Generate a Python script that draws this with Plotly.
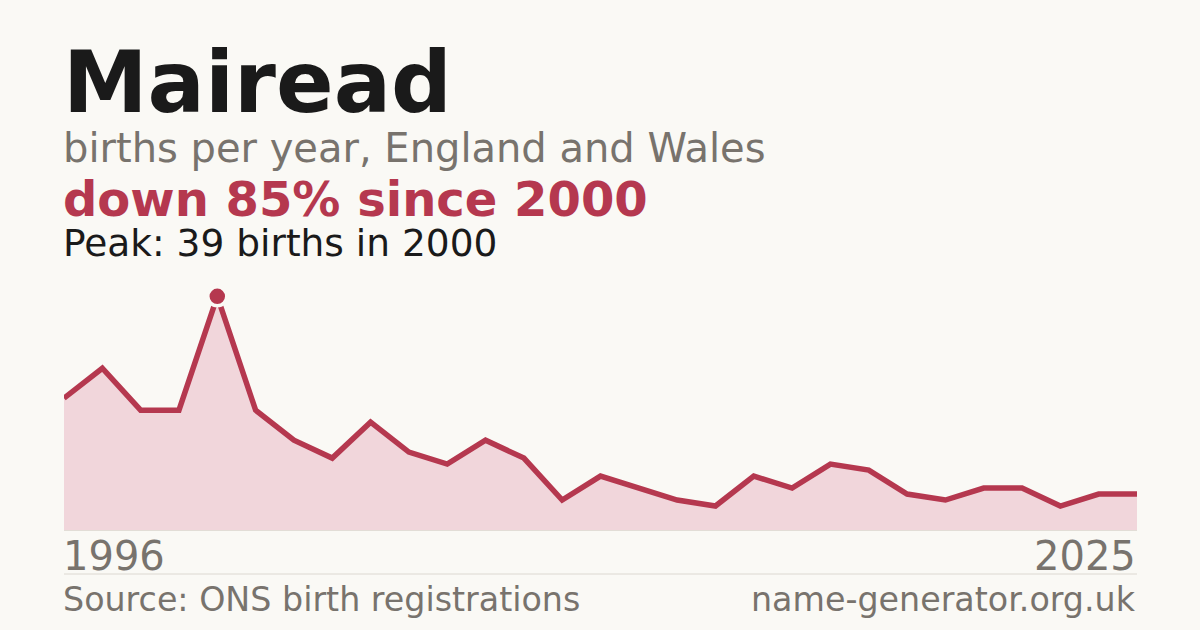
import plotly.graph_objects as go

# births per year for the name, 1996 onwards
first_year = 1996
births = [22, 27, 20, 20, 39, 20, 15, 12, 18, 13, 11, 15, 12, 5, 9,
          7, 5, 4, 9, 7, 11, 10, 6, 5, 7, 7, 4, 6, 6]
end_labels = ["1996", "2025"]

name = "Mairead"
subtitle = "births per year, England and Wales"
change_text = "down 85% since 2000"
peak_text = "Peak: 39 births in 2000"
source_text = "Source: ONS birth registrations"
site_text = "name-generator.org.uk"

bg = "#faf9f5"
red = "#b5384f"
fill = "#f1d6db"
grey = "#78736d"
dark = "#1a1a1a"
font = "DejaVu Sans"

x = list(range(len(births)))
peak_i = births.index(max(births))

# plot area in pixels (left 64, right 1137, top 280, bottom 530)
left, right = 64, 1137
top, bottom = 280, 530


def py(pixel):
    return (bottom - pixel) / (bottom - top)


def px(pixel):
    return (pixel - left) / (right - left)


fig = go.Figure()
fig.add_trace(go.Scatter(
    x=x, y=births, mode="lines",
    line=dict(color=red, width=5.5, shape="linear"),
    fill="tozeroy", fillcolor=fill,
    hoverinfo="skip",
))
fig.add_trace(go.Scatter(
    x=[x[peak_i]], y=[births[peak_i]], mode="markers",
    marker=dict(size=19, color=red, line=dict(color=bg, width=3.5)),
    hoverinfo="skip",
))

annos = [
    dict(text=f"<b>{name}</b>", size=85, color=dark, y=82, x=62, xa="left"),
    dict(text=subtitle, size=40, color=grey, y=148, x=62, xa="left"),
    dict(text=f"<b>{change_text}</b>", size=48, color=red, y=199, x=62, xa="left"),
    dict(text=peak_text, size=37.5, color=dark, y=243, x=62, xa="left"),
    dict(text=end_labels[0], size=40, color=grey, y=556, x=62, xa="left"),
    dict(text=end_labels[1], size=40, color=grey, y=556, x=1137, xa="right"),
    dict(text=source_text, size=33.3, color=grey, y=599, x=62, xa="left"),
    dict(text=site_text, size=33.3, color=grey, y=599, x=1137, xa="right"),
]
for a in annos:
    fig.add_annotation(
        text=a["text"], xref="paper", yref="paper",
        x=px(a["x"]), y=py(a["y"]), xanchor=a["xa"], yanchor="middle",
        showarrow=False, borderpad=0,
        font=dict(family=font, size=a["size"], color=a["color"]),
    )

fig.add_shape(type="line", xref="paper", yref="paper",
              x0=0, x1=1, y0=py(574), y1=py(574),
              line=dict(color="#dcd8d1", width=1))

fig.update_layout(
    width=1200, height=630,
    margin=dict(l=left, r=1200 - right, t=top, b=630 - bottom),
    paper_bgcolor=bg, plot_bgcolor=bg,
    showlegend=False,
    xaxis=dict(range=[0, len(births) - 1], visible=True, showgrid=False,
               zeroline=False, showticklabels=False, ticks="",
               showline=True, linecolor="#e2ddd6", linewidth=1),
    yaxis=dict(range=[0, max(births) * 1.07], visible=False),
)

fig.write_html("out.html", config={"displayModeBar": False},
               post_script="document.body.style.margin='0';")
